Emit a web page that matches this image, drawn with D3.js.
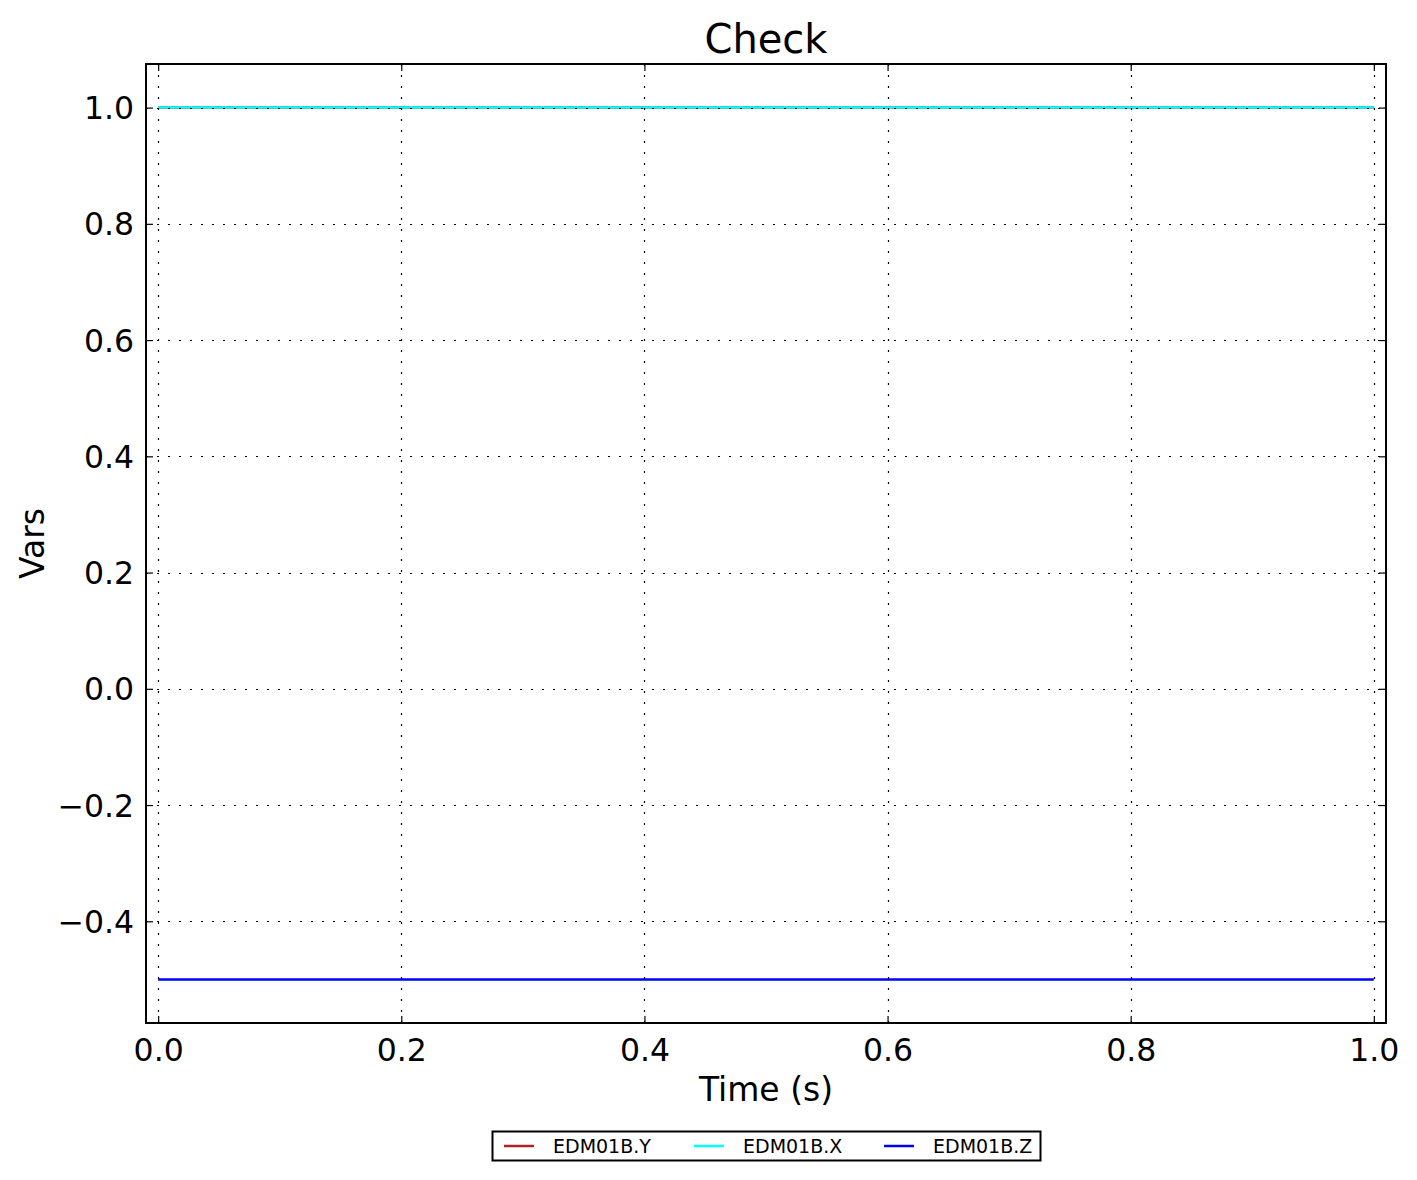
<!DOCTYPE html>
<html><head><meta charset="utf-8">
<script src="https://cdn.jsdelivr.net/npm/d3@7"></script>
<style>body{margin:0;background:#fff;} text{font-family:"DejaVu Sans",sans-serif;}</style>
</head><body>
<svg id="c" width="1417" height="1180"></svg>
<script>
const times = [0.0, 1.0];
const seriesNames = ["EDM01B.Y", "EDM01B.X", "EDM01B.Z"];
const seriesColors = ["#b22222", "#00ffff", "#0000ff"];
const valuesY = [1.0, 1.0];
const valuesX = [1.0, 1.0];
const valuesZ = [-0.5, -0.5];
const xTicks = [0.0, 0.2, 0.4, 0.6, 0.8, 1.0];
const yTicks = [-0.4, -0.2, 0.0, 0.2, 0.4, 0.6, 0.8, 1.0];

const svg = d3.select("#c");
const L = 146, R = 1386, T = 64, B = 1023;
const x = d3.scaleLinear().domain([-0.01, 1.01]).range([L, R]);
const y = d3.scaleLinear().domain([-0.575, 1.075]).range([B, T]);
const fmt = d => (d < 0 ? "\u2212" : "") + Math.abs(d).toFixed(1);

svg.append("rect").attr("x", L).attr("y", T).attr("width", R - L).attr("height", B - T).attr("fill", "#fff");

svg.append("clipPath").attr("id", "cp").append("rect").attr("x", L).attr("y", T).attr("width", R - L).attr("height", B - T);

const line = d3.line().x((d, i) => x(times[i])).y(d => y(d));
const allSeries = [valuesY, valuesX, valuesZ];
const gl = svg.append("g").attr("clip-path", "url(#cp)");
allSeries.forEach((vals, k) => {
  gl.append("path").datum(vals).attr("d", line).attr("fill", "none").attr("stroke", seriesColors[k]).attr("stroke-width", 2.5);
});

// grid on top
const gg = svg.append("g");
xTicks.forEach(t => gg.append("line").attr("x1", Math.round(x(t)) + 0.5).attr("x2", Math.round(x(t)) + 0.5).attr("y1", T).attr("y2", B)
  .attr("stroke", "#000").attr("stroke-width", 1.2).attr("stroke-dasharray", "2,9"));
yTicks.forEach(t => gg.append("line").attr("y1", Math.round(y(t)) + 0.5).attr("y2", Math.round(y(t)) + 0.5).attr("x1", L).attr("x2", R)
  .attr("stroke", "#000").attr("stroke-width", 1.2).attr("stroke-dasharray", "2,9"));

// axes with inward ticks
const axB = svg.append("g").attr("transform", `translate(0,${B})`).call(d3.axisBottom(x).tickValues(xTicks).tickFormat(fmt).tickSizeInner(-7).tickSizeOuter(0).tickPadding(16));
const axT = svg.append("g").attr("transform", `translate(0,${T})`).call(d3.axisTop(x).tickValues(xTicks).tickFormat("").tickSizeInner(-7).tickSizeOuter(0));
const axLft = svg.append("g").attr("transform", `translate(${L},0)`).call(d3.axisLeft(y).tickValues(yTicks).tickFormat(fmt).tickSizeInner(-7).tickSizeOuter(0).tickPadding(12));
const axRt = svg.append("g").attr("transform", `translate(${R},0)`).call(d3.axisRight(y).tickValues(yTicks).tickFormat("").tickSizeInner(-7).tickSizeOuter(0));
[axB, axT, axLft, axRt].forEach(a => {
  a.select(".domain").remove();
  a.selectAll("line").attr("stroke", "#000").attr("stroke-width", 1.2);
  a.selectAll("text").attr("font-size", 31.5).attr("font-family", "DejaVu Sans").attr("fill", "#000");
});
axLft.selectAll("text").attr("dy", "0.35em");

svg.append("rect").attr("x", L).attr("y", T).attr("width", R - L).attr("height", B - T).attr("fill", "none").attr("stroke", "#000").attr("stroke-width", 2);

svg.append("text").attr("x", (L + R) / 2).attr("y", 53).attr("text-anchor", "middle").attr("font-size", 40).text("Check");
svg.append("text").attr("x", (L + R) / 2).attr("y", 1101).attr("text-anchor", "middle").attr("font-size", 33).text("Time (s)");
svg.append("text").attr("transform", `translate(44,${(T + B) / 2}) rotate(-90)`).attr("text-anchor", "middle").attr("font-size", 33).text("Vars");

// legend
const lg = svg.append("g");
lg.append("rect").attr("x", 492.5).attr("y", 1131.5).attr("width", 548).attr("height", 29).attr("fill", "#fff").attr("stroke", "#000").attr("stroke-width", 2);
seriesNames.forEach((n, k) => {
  const x0 = 504 + k * 190;
  lg.append("line").attr("x1", x0).attr("x2", x0 + 30).attr("y1", 1146).attr("y2", 1146).attr("stroke", seriesColors[k]).attr("stroke-width", 2.5);
  lg.append("text").attr("x", x0 + 49).attr("y", 1153).attr("font-size", 19).text(n);
});
</script>
</body></html>
